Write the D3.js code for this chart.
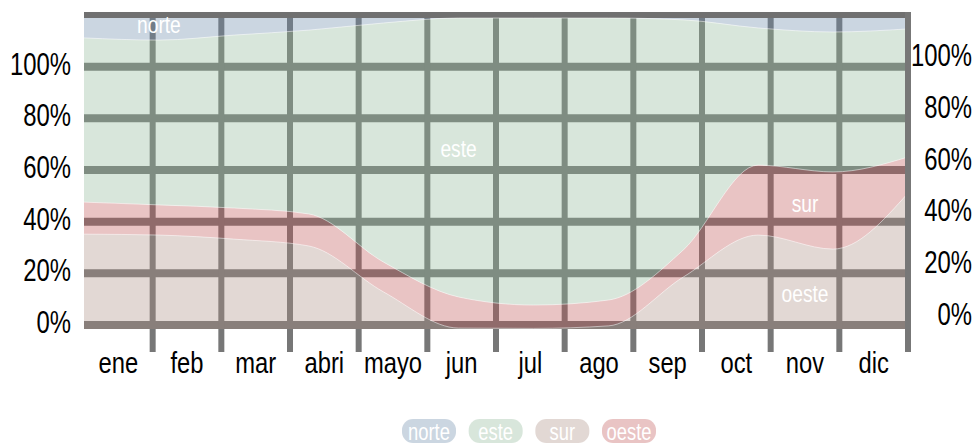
<!DOCTYPE html>
<html>
<head>
<meta charset="utf-8">
<script src="https://cdn.jsdelivr.net/npm/d3@7"></script>
<style>
  body { margin: 0; background: #fff; }
  text { font-family: "Liberation Sans", Arial, sans-serif; }
</style>
</head>
<body>
<div id="chart"></div>
<script>
// data (share of each month, %)
var months = ["ene", "feb", "mar", "abri", "mayo", "jun", "jul", "ago", "sep", "oct", "nov", "dic"];
var norte = [6.4, 7.1, 5.5, 3.9, 1.6, 0, 0, 0, 0.6, 3.2, 4.5, 3.5];
var este  = [52.8, 53.0, 55.6, 59.1, 76.9, 89.7, 92.3, 90.7, 74.0, 44.1, 45.0, 41.2];
var sur   = [30.5, 30.2, 28.9, 26.7, 11.9, 0.3, 0.2, 1.0, 16.7, 30.2, 25.7, 43.7];
var oeste = [10.3, 9.7, 10.0, 10.3, 9.6, 10.0, 7.5, 8.3, 8.7, 22.5, 24.8, 11.6];
var yTicks = [0, 20, 40, 60, 80, 100];
var legendKeys = ["norte", "este", "sur", "oeste"];

var svgWidth = 978;
var svgHeight = 445;
var plotLeft = 84, plotRight = 908;

var svg = d3.select("#chart")
  .append("svg")
  .attr("width", svgWidth)
  .attr("height", svgHeight);

var colors = { norte: "#6a8aa9", este: "#90b898", sur: "#ac9084", oeste: "#c05656" };
var areaOpacity = 0.35;
var gridColor = "#777";
// the labels are drawn narrow, like a condensed face
var narrow = "scale(0.8,1)";

// scales
var xBand = d3.scaleBand().domain(months).range([plotLeft, plotRight]);
var xPoint = d3.scalePoint().domain(months).range([plotLeft, plotRight]);
var yGrid = d3.scaleLinear().domain([0, 1.2]).range([325, 15]);
var yArea = d3.scaleLinear().domain([0, 1]).range([329, 18]);

// build table + stack
var rows = months.map(function(m, i) {
  return { month: m, norte: norte[i], este: este[i], sur: sur[i], oeste: oeste[i] };
});
var series = d3.stack()
  .keys(["sur", "oeste", "este", "norte"])
  .offset(d3.stackOffsetExpand)(rows);

// grid lines (under the areas)
svg.append("g").selectAll("line")
  .data(yTicks)
  .join("line")
  .attr("x1", plotLeft).attr("x2", plotRight)
  .attr("y1", d => yGrid(d / 100)).attr("y2", d => yGrid(d / 100))
  .attr("stroke", gridColor).attr("stroke-width", 8);

svg.append("g").selectAll("line")
  .data(months.slice(0, -1))
  .join("line")
  .attr("x1", d => xBand(d) + xBand.bandwidth())
  .attr("x2", d => xBand(d) + xBand.bandwidth())
  .attr("y1", yGrid(1.2)).attr("y2", 352)
  .attr("stroke", gridColor).attr("stroke-width", 6);

// top border
svg.append("line")
  .attr("x1", plotLeft).attr("x2", plotRight + 3)
  .attr("y1", yGrid(1.2)).attr("y2", yGrid(1.2))
  .attr("stroke", "#707070").attr("stroke-width", 6);

// areas
var area = d3.area()
  .x(d => xPoint(d.data.month))
  .y0(d => yArea(d[0]))
  .y1(d => yArea(d[1]))
  .curve(d3.curveMonotoneX);

svg.append("g").selectAll("path")
  .data(series)
  .join("path")
  .attr("d", area)
  .attr("fill", d => colors[d.key])
  .attr("fill-opacity", areaOpacity);

var topLine = d3.line()
  .x(d => xPoint(d.data.month))
  .y(d => yArea(d[1]))
  .curve(d3.curveMonotoneX);

svg.append("g").selectAll("path")
  .data(series.filter(s => s.key !== "norte"))
  .join("path")
  .attr("d", topLine)
  .attr("fill", "none")
  .attr("stroke", "#fff")
  .attr("stroke-width", 1)
  .attr("stroke-opacity", 0.5);

// right border
svg.append("line")
  .attr("x1", plotRight).attr("x2", plotRight)
  .attr("y1", yGrid(1.2) - 3).attr("y2", 352)
  .attr("stroke", gridColor).attr("stroke-width", 6);

// axes
var pct = d3.format(".0%");
var leftAxis = d3.axisLeft(yGrid).tickValues(yTicks.map(v => v / 100)).tickFormat(pct).tickSize(0).tickPadding(0);
var rightAxis = d3.axisRight(yGrid).tickValues(yTicks.map(v => v / 100)).tickFormat(pct).tickSize(0).tickPadding(0);
var bottomAxis = d3.axisBottom(xBand).tickSize(0).tickPadding(0);

var gl = svg.append("g").attr("transform", "translate(71,0)").call(leftAxis);
gl.select(".domain").remove();
gl.selectAll("text")
  .attr("x", 0).attr("dy", "0.24em")
  .attr("transform", "scale(0.77,1)")
  .style("font-size", "31px").attr("fill", "#000");

var gr = svg.append("g").attr("transform", "translate(972,0)").call(rightAxis);
gr.select(".domain").remove();
gr.selectAll("text")
  .attr("x", 0).attr("text-anchor", "end").attr("dy", "-0.03em")
  .attr("transform", "scale(0.77,1)")
  .style("font-size", "31px").attr("fill", "#000");

var gb = svg.append("g").attr("transform", "translate(0,373)").call(bottomAxis);
gb.select(".domain").remove();
gb.selectAll("text")
  .attr("y", 0).attr("dy", 0)
  .attr("transform", "scale(0.82,1)")
  .style("font-size", "29px").attr("fill", "#000");

// labels inside the areas
var inner = [
  { text: "norte", x: xPoint("feb"), v: 1.13 },
  { text: "este", x: xPoint("jun"), v: 0.65 },
  { text: "sur", x: xBand("nov") + xBand.bandwidth() / 2, v: 0.437 },
  { text: "oeste", x: xBand("nov") + xBand.bandwidth() / 2, v: 0.089 }
];
svg.append("g").selectAll("text")
  .data(inner)
  .join("text")
  .attr("transform", d => `translate(${d.x},${yGrid(d.v)}) ${narrow}`)
  .attr("text-anchor", "middle")
  .attr("fill", "#fff")
  .style("font-size", "24px")
  .text(d => d.text);

// legend
var legendX = d3.scalePoint().domain(legendKeys).range([429, 629]);
var legend = svg.append("g").selectAll("g")
  .data(legendKeys)
  .join("g")
  .attr("transform", d => `translate(${legendX(d)},0)`);

legend.append("rect")
  .attr("x", -27).attr("y", 419)
  .attr("width", 54).attr("height", 24)
  .attr("rx", 11)
  .attr("fill", d => colors[d])
  .attr("fill-opacity", areaOpacity);

legend.append("text")
  .attr("transform", `translate(0,440) ${narrow}`)
  .attr("text-anchor", "middle")
  .attr("fill", "#fff")
  .style("font-size", "23px")
  .text(d => d);
</script>
</body>
</html>
